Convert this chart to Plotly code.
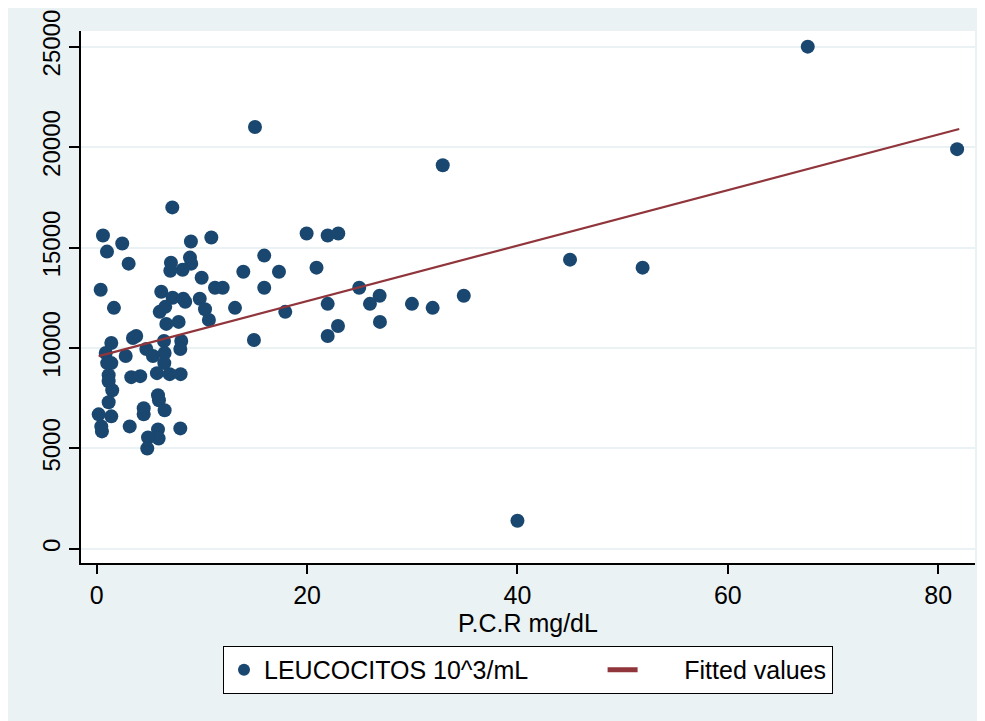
import plotly.graph_objects as go

# P.C.R mg/dL (x) and LEUCOCITOS 10^3/mL (y)
pcr = [67.6, 81.8, 15.05, 32.9, 40.0, 45.0, 51.9, 34.9, 31.94, 29.97,
       26.9, 26.93, 25.98, 24.96, 22.94, 21.96, 21.96, 10.9, 19.96, 21.96,
       22.97, 15.93, 20.9, 13.94, 17.33, 9.98, 11.25, 11.98, 15.93, 9.8,
       10.3, 13.15, 10.67, 17.93, 14.95, 7.19, 0.6, 2.43, 0.98, 3.04,
       8.96, 7.06, 8.87, 8.99, 7.0, 8.17, 0.38, 6.14, 7.22, 8.23,
       8.42, 1.64, 6.52, 5.99, 6.62, 7.79, 3.76, 3.45, 1.39, 0.86,
       2.76, 1.0, 1.39, 4.72, 5.35, 6.4, 6.46, 8.04, 7.95, 6.43,
       5.73, 6.94, 7.98, 1.14, 1.14, 1.48, 3.29, 4.14, 5.83, 5.92,
       1.14, 4.47, 4.47, 6.46, 0.19, 1.39, 0.5, 0.44, 3.14, 7.95,
       5.83, 5.89, 4.88, 4.81]
leucocitos = [25000, 19900, 21000, 19100, 1400, 14400, 14000, 12600, 12000, 12200,
              12600, 11300, 12200, 13000, 11100, 10600, 12200, 15500, 15700, 15600,
              15700, 14600, 14000, 13800, 13800, 13500, 13000, 13000, 13000, 12450,
              11930, 12000, 11400, 11800, 10400, 17000, 15600, 15200, 14800, 14200,
              15300, 14250, 14500, 14200, 13850, 13900, 12900, 12800, 12500, 12450,
              12300, 12000, 12050, 11800, 11200, 11300, 10600, 10500, 10250, 9750,
              9600, 9250, 9250, 9950, 9600, 10350, 9750, 10350, 9950, 9250,
              8750, 8700, 8700, 8650, 8350, 7900, 8550, 8600, 7650, 7400,
              7300, 7000, 6700, 6900, 6700, 6600, 5850, 6100, 6100, 6000,
              5950, 5500, 5550, 5000]

fit_x = [0.19, 82.0]
fit_y = [9600, 20900]

x_ticks = [0, 20, 40, 60, 80]
y_ticks = [0, 5000, 10000, 15000, 20000, 25000]

series_names = ["LEUCOCITOS 10^3/mL", "Fitted values"]

FONT = "Liberation Sans, Arial, sans-serif"
NAVY = "#1a476f"
MAROON = "#90353b"
BG = "#eaf2f3"
NB = "\u00a0"

fig = go.Figure()
fig.add_trace(go.Scatter(
    x=pcr, y=leucocitos, mode="markers", name=series_names[0] + NB * 10,
    marker=dict(color=NAVY, size=14, line=dict(width=0)),
))
fig.add_trace(go.Scatter(
    x=fit_x, y=fit_y, mode="lines", name=NB * 6 + series_names[1],
    line=dict(color=MAROON, width=2.2),
))

fig.update_layout(
    width=977, height=713,
    margin=dict(l=73, r=10, t=23, b=158, autoexpand=False),
    paper_bgcolor=BG,
    plot_bgcolor="white",
    font=dict(family=FONT, size=25, color="black"),
    showlegend=True,
    legend=dict(
        orientation="h", x=0.5, xanchor="center", y=-0.156, yanchor="top",
        bordercolor="black", borderwidth=1, bgcolor="white",
        font=dict(family=FONT, size=25, color="black"),
        itemsizing="constant",
    ),
)

fig.update_xaxes(
    range=[-1.49, 83.5], tickvals=x_ticks, ticktext=[str(v) for v in x_ticks],
    showgrid=False, zeroline=False, automargin=False,
    showline=True, linecolor="black", linewidth=1.5, mirror=False,
    ticks="outside", ticklen=9, tickwidth=1.5, tickcolor="black",
    tickfont=dict(family=FONT, size=25),
    title=dict(text="P.C.R mg/dL", font=dict(family=FONT, size=25), standoff=2),
)
fig.update_yaxes(
    range=[-700, 25780], tickvals=y_ticks, ticktext=[str(v) for v in y_ticks],
    showgrid=True, gridcolor=BG, gridwidth=2, zeroline=False, automargin=False,
    showline=True, linecolor="black", linewidth=1.5,
    ticks="outside", ticklen=10, tickwidth=1.5, tickcolor="black",
    tickangle=-90, tickfont=dict(family=FONT, size=24),
    ticklabeloverflow="allow",
)

fig.write_html("out.html")
